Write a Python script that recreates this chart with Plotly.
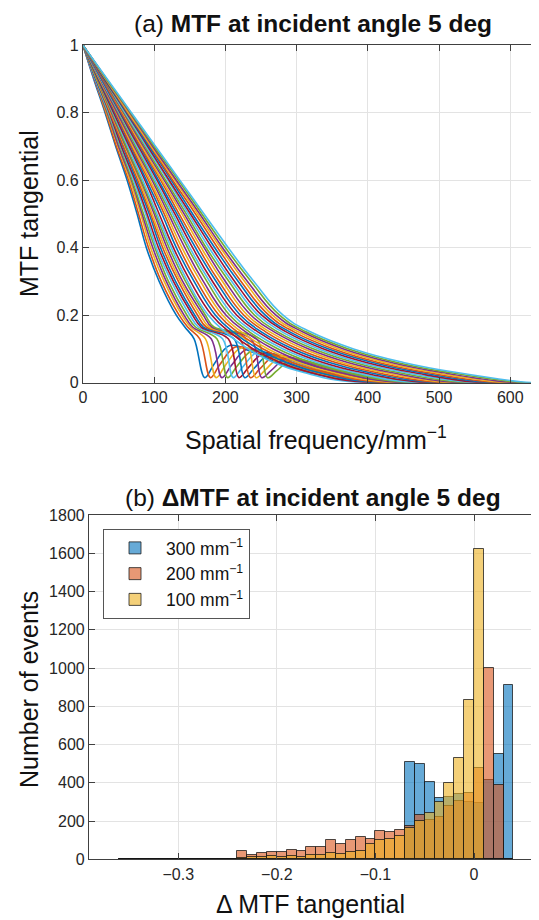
import plotly.graph_objects as go

# =====================================
# DATA: panel (a) MTF curves
# =====================================
# frequency (mm^-1) where each smooth curve crosses these MTF levels
MTF_LEVELS = [1.0, 0.9, 0.8, 0.7, 0.6, 0.5, 0.4, 0.3, 0.2, 0.15, 0.1, 0.06, 0.03, 0.0]
SMOOTH_FREQ = [
    [0, 21, 42, 63, 84, 104, 124, 147, 176, 200, 232, 268, 310, 390],
    [0, 21, 43, 65, 87, 107, 127, 151, 181, 206, 239, 277, 320, 401],
    [0, 22, 45, 67, 89, 111, 131, 156, 186, 211, 246, 285, 331, 413],
    [0, 23, 46, 68, 92, 114, 135, 160, 191, 217, 253, 294, 341, 424],
    [0, 23, 47, 70, 94, 117, 139, 165, 196, 223, 260, 303, 351, 436],
    [0, 24, 48, 72, 97, 120, 143, 169, 201, 229, 267, 311, 361, 447],
    [0, 25, 50, 74, 99, 123, 147, 174, 206, 234, 274, 320, 371, 459],
    [0, 25, 51, 76, 101, 126, 150, 178, 211, 240, 281, 329, 382, 470],
    [0, 26, 52, 78, 104, 129, 154, 182, 216, 246, 288, 337, 392, 481],
    [0, 26, 53, 80, 106, 132, 158, 187, 221, 251, 295, 346, 402, 493],
    [0, 27, 54, 81, 109, 135, 162, 191, 226, 257, 302, 355, 412, 504],
    [0, 28, 56, 83, 111, 139, 166, 196, 231, 263, 310, 363, 423, 516],
    [0, 28, 57, 85, 114, 142, 170, 200, 236, 269, 317, 372, 433, 527],
    [0, 29, 58, 87, 116, 145, 173, 205, 241, 274, 324, 381, 443, 539],
    [0, 30, 59, 89, 119, 148, 177, 209, 246, 280, 331, 389, 453, 550],
    [0, 30, 61, 91, 121, 151, 181, 213, 251, 286, 338, 398, 464, 561],
    [0, 31, 62, 93, 124, 154, 185, 218, 256, 291, 345, 407, 474, 573],
    [0, 32, 63, 95, 126, 158, 189, 222, 261, 297, 352, 415, 484, 584],
    [0, 32, 64, 96, 129, 161, 193, 227, 266, 303, 359, 424, 494, 596],
    [0, 33, 66, 98, 131, 164, 196, 231, 271, 309, 366, 433, 505, 607],
    [0, 33, 67, 100, 134, 167, 200, 236, 276, 314, 373, 441, 515, 619],
    [0, 34, 68, 102, 136, 170, 204, 240, 281, 320, 380, 450, 525, 630],
]
CUTOFF = 640

# curves that fall to zero and come back (secondary lobe)
DIP_LEVELS = [1.0, 0.9, 0.8, 0.7, 0.6, 0.5, 0.4, 0.3, 0.2]
DIP_UPPER_FREQ = [
    [0, 15, 31, 46, 62, 76, 89, 107, 131],
    [0, 16, 32, 47, 64, 78, 92, 110, 135],
    [0, 16, 33, 49, 66, 81, 95, 114, 139],
    [0, 16, 34, 50, 68, 83, 98, 117, 142],
    [0, 17, 35, 52, 69, 85, 101, 120, 146],
    [0, 17, 36, 53, 71, 88, 103, 124, 150],
    [0, 18, 37, 54, 73, 90, 106, 127, 154],
    [0, 18, 38, 56, 75, 93, 109, 130, 157],
    [0, 19, 38, 57, 77, 95, 112, 134, 161],
    [0, 19, 39, 59, 79, 97, 115, 137, 165],
    [0, 20, 40, 60, 81, 100, 118, 140, 169],
    [0, 20, 41, 61, 82, 102, 121, 144, 172],
]
DIP_LOWER_FREQ = [
    [143, 156, 171, 184, 206, 241, 291, 361, 431, 640],
    [147, 164, 179, 192, 214, 249, 299, 369, 439, 640],
    [151, 172, 187, 200, 222, 257, 307, 377, 447, 640],
    [154, 180, 195, 208, 230, 265, 315, 385, 455, 640],
    [158, 188, 203, 216, 238, 273, 323, 393, 463, 640],
    [162, 196, 211, 224, 246, 281, 331, 401, 471, 640],
    [166, 204, 219, 232, 254, 289, 339, 409, 479, 640],
    [169, 212, 227, 240, 262, 297, 347, 417, 487, 640],
    [173, 220, 235, 248, 270, 305, 355, 425, 495, 640],
    [177, 228, 243, 256, 278, 313, 363, 433, 503, 640],
    [181, 236, 251, 264, 286, 321, 371, 441, 511, 640],
    [184, 244, 259, 272, 294, 329, 379, 449, 519, 640],
]
DIP_LOWER_MTF = [
    [0.165, 0.13, 0.015, 0.055, 0.110, 0.088, 0.044, 0.011, 0, 0],
    [0.165, 0.13, 0.015, 0.053, 0.106, 0.085, 0.042, 0.011, 0, 0],
    [0.165, 0.13, 0.015, 0.052, 0.103, 0.082, 0.041, 0.010, 0, 0],
    [0.165, 0.13, 0.015, 0.050, 0.099, 0.079, 0.040, 0.010, 0, 0],
    [0.165, 0.13, 0.015, 0.048, 0.095, 0.076, 0.038, 0.010, 0, 0],
    [0.165, 0.13, 0.015, 0.046, 0.092, 0.074, 0.037, 0.009, 0, 0],
    [0.165, 0.13, 0.015, 0.044, 0.088, 0.070, 0.035, 0.009, 0, 0],
    [0.165, 0.13, 0.015, 0.042, 0.084, 0.067, 0.034, 0.008, 0, 0],
    [0.165, 0.13, 0.015, 0.040, 0.081, 0.065, 0.032, 0.008, 0, 0],
    [0.165, 0.13, 0.015, 0.038, 0.077, 0.062, 0.031, 0.008, 0, 0],
    [0.165, 0.13, 0.015, 0.036, 0.073, 0.058, 0.029, 0.007, 0, 0],
    [0.165, 0.13, 0.015, 0.035, 0.070, 0.056, 0.028, 0.007, 0, 0],
]

# =====================================
# DATA: panel (b) histogram, bin width 0.01
# =====================================
BIN_CENTERS = [
    -0.355, -0.345, -0.335, -0.325, -0.315, -0.305, -0.295, -0.285, -0.275, -0.265,
    -0.255, -0.245, -0.235, -0.225, -0.215, -0.205, -0.195, -0.185, -0.175, -0.165,
    -0.155, -0.145, -0.135, -0.125, -0.115, -0.105, -0.095, -0.085, -0.075, -0.065,
    -0.055, -0.045, -0.035, -0.025, -0.015, -0.005, 0.005, 0.015, 0.025, 0.035,
]
COUNTS_300 = [
    0, 0, 0, 0, 0, 0, 0, 0, 0, 0,
    0, 0, 0, 0, 0, 0, 0, 0, 0, 0,
    0, 0, 0, 0, 0, 0, 0, 0, 0, 510,
    499, 406, 321, 328, 342, 300, 293, 417, 550, 913,
]
COUNTS_200 = [
    3, 0, 4, 0, 3, 0, 2, 3, 4, 0,
    2, 0, 43, 23, 31, 38, 37, 47, 43, 66,
    66, 100, 79, 100, 115, 106, 147, 142, 152, 172,
    231, 208, 220, 279, 307, 345, 475, 1002, 388, 0,
]
COUNTS_100 = [
    2, 0, 3, 0, 2, 3, 0, 2, 3, 0,
    3, 0, 6, 10, 13, 16, 14, 17, 11, 22,
    25, 34, 30, 38, 43, 80, 100, 106, 122, 165,
    200, 244, 297, 400, 530, 835, 1620, 0, 0, 0,
]
HIST_LABELS = ["300 mm<sup>\u22121</sup>", "200 mm<sup>\u22121</sup>", "100 mm<sup>\u22121</sup>"]

# =====================================
# STYLE / PAGE GEOMETRY
# =====================================
MATLAB_COLORS = ["#0072BD", "#D95319", "#EDB120", "#7E2F8E", "#77AC30", "#4DBEEE", "#A2142F"]
HIST_FILL = ["rgba(0,114,189,0.6)", "rgba(217,83,25,0.6)", "rgba(237,177,32,0.6)"]
FONT = "Liberation Sans, Arial, sans-serif"
OFF = 8                      # default body margin of the html page
W, H = 539 - OFF, 920 - OFF  # figure size so the page is filled exactly


def px(x):  # page pixel -> paper x
    return (x - OFF) / W


def py(y):  # page pixel -> paper y
    return 1 - (y - OFF) / H


fig = go.Figure()

# ---- panel (a) ----
curves = []
for i in range(len(DIP_UPPER_FREQ)):
    curves.append((DIP_UPPER_FREQ[i] + DIP_LOWER_FREQ[i], DIP_LEVELS + DIP_LOWER_MTF[i], 1.0))
for row in SMOOTH_FREQ:
    xs = list(row)
    ys = list(MTF_LEVELS)
    if xs[-1] < CUTOFF:
        xs.append(CUTOFF)
        ys.append(0.0)
    curves.append((xs, ys, 1.3))

for n, (xs, ys, sm) in enumerate(curves):
    fig.add_trace(go.Scatter(
        x=xs, y=ys, mode="lines",
        line=dict(color=MATLAB_COLORS[n % 7], width=1.6, shape="spline", smoothing=sm),
        showlegend=False, hoverinfo="skip", xaxis="x", yaxis="y"))

# ---- panel (b) ----
for counts, fill, label in zip([COUNTS_300, COUNTS_200, COUNTS_100], HIST_FILL, HIST_LABELS):
    fig.add_trace(go.Bar(
        x=BIN_CENTERS, y=counts, width=0.01, name=label,
        marker=dict(color=fill, line=dict(color="rgba(20,20,20,0.75)", width=1)),
        xaxis="x2", yaxis="y2"))

axis_common = dict(
    showline=True, linecolor="#404040", linewidth=1.2,
    ticks="inside", ticklen=6, tickcolor="#404040", tickwidth=1,
    showgrid=True, gridcolor="#e3e3e3", gridwidth=1, automargin=False,
    zeroline=False, tickfont=dict(size=16, color="#262626", family=FONT),
)
label_font = dict(size=25, color="#111111")
title_font = dict(size=24.5, color="#111111")


def note(text, x, y, font, angle=0):
    return dict(text=text, x=px(x), y=py(y), xref="paper", yref="paper",
                xanchor="center", yanchor="middle", showarrow=False,
                textangle=angle, font=font)


fig.update_layout(
    template="none",
    width=W, height=H,
    margin=dict(l=0, r=0, t=0, b=0, pad=0),
    paper_bgcolor="white", plot_bgcolor="white",
    font=dict(family=FONT, color="#262626"),
    barmode="overlay", bargap=0,
    xaxis=dict(domain=[px(83), 1.0], range=[0, 640.4], anchor="y",
               tickvals=[0, 100, 200, 300, 400, 500, 600], mirror="allticks", **axis_common),
    yaxis=dict(domain=[py(382.7), py(45.2)], range=[0, 1], anchor="x",
               tickvals=[0, 0.2, 0.4, 0.6, 0.8, 1], **axis_common),
    xaxis2=dict(domain=[px(89), 1.0], range=[-0.3906, 0.0659], anchor="y2",
                tickvals=[-0.3, -0.2, -0.1, 0], mirror="allticks", **axis_common),
    yaxis2=dict(domain=[py(859.3), py(515)], range=[0, 1800], anchor="x2",
                tickvals=list(range(0, 2000, 200)), **axis_common),
    legend=dict(x=px(103), y=py(529), xanchor="left", yanchor="top",
                bgcolor="white", bordercolor="#555555", borderwidth=1,
                font=dict(size=17.5, color="#111111"), itemwidth=52),
    annotations=[
        note("(a) <b>MTF at incident angle 5 deg</b>", 313, 23, title_font),
        note("(b) <b>\u0394MTF at incident angle 5 deg</b>", 313, 497, title_font),
        note("Spatial frequency/mm<sup>\u22121</sup>", 316, 438, label_font),
        note("\u0394 MTF tangential", 310, 904, label_font),
        note("MTF tangential", 29, 214, label_font, -90),
        note("Number of events", 29, 690, label_font, -90),
    ],
)

fig.write_html("out.html")
